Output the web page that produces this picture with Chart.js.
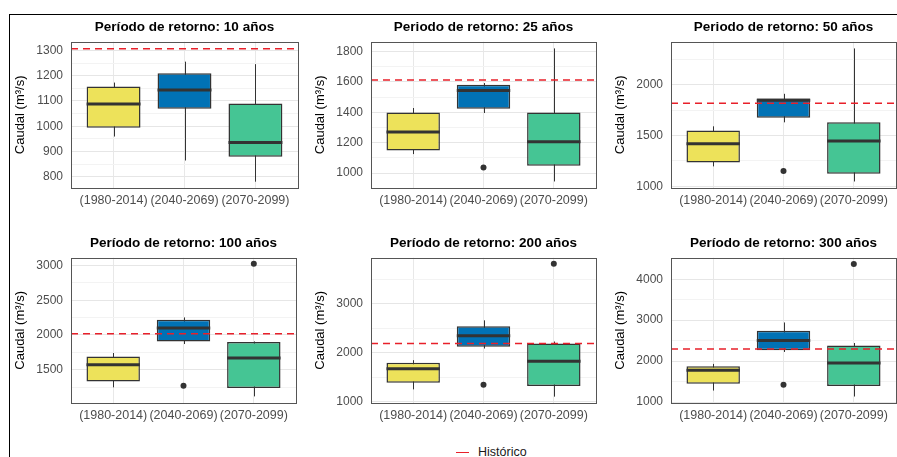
<!DOCTYPE html>
<html>
<head>
<meta charset="utf-8">
<script src="https://cdn.jsdelivr.net/npm/chart.js@4"></script>
<style>
  body { margin: 0; width: 897px; height: 457px; overflow: hidden; background: #fff; position: relative;
         font-family: "Liberation Sans", Arial, sans-serif; }
  .frame { position: absolute; left: 9px; top: 14px; width: 900px; height: 470px; border: 1.5px solid #000; box-sizing: border-box; }
  canvas { position: absolute; }
  .legend { position: absolute; left: 456px; top: 444px; font-size: 12.5px; color: #1a1a1a; line-height: 16px; }
  .legend span.dash { display: inline-block; width: 13px; height: 0; border-top: 1.5px solid #e8202a; vertical-align: middle; margin-right: 9px; }
</style>
</head>
<body>
<div class="frame"></div>
<div id="panels"></div>
<div class="legend"><span class="dash"></span>Histórico</div>
<script>
  // Datos
  const categories = ['(1980-2014)', '(2040-2069)', '(2070-2099)'];
  const titles = ['Período de retorno: 10 años', 'Periodo de retorno: 25 años', 'Periodo de retorno: 50 años',
                  'Período de retorno: 100 años', 'Período de retorno: 200 años', 'Período de retorno: 300 años'];
  const historico = [1307, 1612, 1816, 2017, 2190, 2297];
  const whiskerLow  = [[959, 864, 780], [1125, 1395, 945], [1197, 1629, 1049], [1245, 1869, 1115], [1251, 2088, 1102], [1282, 2224, 1136]];
  const hingeLow    = [[994, 1069, 879], [1149, 1423, 1048], [1236, 1673, 1125], [1331, 1906, 1236], [1388, 2122, 1318], [1445, 2263, 1392]];
  const medians     = [[1088, 1144, 935], [1270, 1543, 1206], [1420, 1846, 1446], [1571, 2099, 1668], [1673, 2347, 1829], [1776, 2506, 1956]];
  const hingeHigh   = [[1157, 1210, 1090], [1399, 1581, 1399], [1548, 1862, 1629], [1690, 2219, 1897], [1796, 2543, 2190], [1873, 2742, 2380]];
  const whiskerHigh = [[1173, 1256, 1246], [1428, 1592, 1820], [1590, 1909, 2354], [1740, 2252, 1906], [1849, 2665, 2231], [1932, 2944, 2443]];
  const outliers = [[], [[2, 1036]], [[2, 1151]], [[2, 1269], [3, 3024]], [[2, 1347], [3, 3822]], [[2, 1421], [3, 4372]]];
  const yTicks = [[800, 900, 1000, 1100, 1200, 1300], [1000, 1200, 1400, 1600, 1800], [1000, 1500, 2000],
                  [1500, 2000, 2500, 3000], [1000, 2000, 3000], [1000, 2000, 3000, 4000]];
  const yMin = [755, 902, 985, 1020, 972, 978];
  const yMax = [1335, 1864, 2420, 3112, 3948, 4525];
  const boxColors = ['#ede25a', '#0172b5', '#45c594'];

  const panelPos = [[0, 15], [300, 15], [600, 15], [0, 231], [300, 231], [600, 231]];
  const font = "'Liberation Sans', Arial, sans-serif";

  // bigotes debajo de la caja, medianas encima, borde del panel
  const boxPlugin = {
    id: 'boxExtras',
    beforeDatasetDraw(chart, args, opts) {
      if (args.index !== 0) return;
      const { ctx, scales: { x, y } } = chart;
      ctx.save();
      ctx.strokeStyle = '#333';
      ctx.lineWidth = 1;
      opts.lo.forEach((lo, i) => {
        const px = Math.round(x.getPixelForValue(i + 1)) + 0.5;
        ctx.beginPath();
        ctx.moveTo(px, y.getPixelForValue(lo));
        ctx.lineTo(px, y.getPixelForValue(opts.hi[i]));
        ctx.stroke();
      });
      ctx.restore();
    },
    afterDatasetDraw(chart, args, opts) {
      if (args.index !== 0) return;
      const { ctx, scales: { y } } = chart;
      const bars = chart.getDatasetMeta(0).data;
      ctx.save();
      ctx.strokeStyle = '#333';
      ctx.lineWidth = 3;
      opts.med.forEach((m, i) => {
        const py = y.getPixelForValue(m);
        ctx.beginPath();
        ctx.moveTo(bars[i].x - bars[i].width / 2, py);
        ctx.lineTo(bars[i].x + bars[i].width / 2, py);
        ctx.stroke();
      });
      ctx.restore();
    },
    afterDraw(chart) {
      const { ctx, chartArea: a } = chart;
      ctx.save();
      ctx.strokeStyle = '#555';
      ctx.lineWidth = 1;
      ctx.strokeRect(Math.round(a.left) + 0.5, Math.round(a.top) + 0.5, Math.round(a.right - a.left), Math.round(a.bottom - a.top));
      ctx.restore();
    }
  };

  titles.forEach((title, p) => {
    const canvas = document.createElement('canvas');
    canvas.width = 300;
    canvas.height = 200;
    canvas.style.left = panelPos[p][0] + 'px';
    canvas.style.top = panelPos[p][1] + 'px';
    document.getElementById('panels').appendChild(canvas);

    const major = yTicks[p];
    const half = (major[1] - major[0]) / 2;
    const gridVals = [];
    for (let v = major[0] - half; v <= yMax[p]; v += half) {
      if (v >= yMin[p]) gridVals.push(v);
    }

    new Chart(canvas, {
      type: 'bar',
      data: {
        datasets: [
          {
            data: categories.map((c, i) => ({ x: i + 1, y: [hingeLow[p][i], hingeHigh[p][i]] })),
            backgroundColor: boxColors,
            borderColor: '#333',
            borderWidth: 1.5,
            borderSkipped: false,
            categoryPercentage: 1,
            barPercentage: 0.76,
            order: 2
          },
          {
            type: 'line',
            data: outliers[p].map(o => ({ x: o[0], y: o[1] })),
            showLine: false,
            pointRadius: 3,
            pointBackgroundColor: '#333',
            pointBorderWidth: 0,
            order: 1
          },
          {
            type: 'line',
            label: 'Histórico',
            data: [{ x: 0.4, y: historico[p] }, { x: 3.6, y: historico[p] }],
            borderColor: '#e8202a',
            borderWidth: 1.5,
            borderDash: [7, 5],
            pointRadius: 0,
            order: 0
          }
        ]
      },
      options: {
        responsive: false,
        animation: false,
        layout: { padding: { left: 0, right: 2, top: 0, bottom: 0 } },
        plugins: {
          legend: { display: false },
          tooltip: { enabled: false },
          title: {
            display: true,
            text: title,
            fullSize: false,
            color: '#000',
            font: { family: font, size: 13.5, weight: 'bold' },
            padding: { top: 4, bottom: 6.5 }
          },
          boxExtras: { lo: whiskerLow[p], hi: whiskerHigh[p], med: medians[p] }
        },
        scales: {
          x: {
            type: 'linear',
            min: 0.4,
            max: 3.6,
            offset: false,
            afterBuildTicks: s => { s.ticks = categories.map((c, i) => ({ value: i + 1 })); },
            afterFit: s => { s.height = p < 3 ? 27 : 28; },
            ticks: {
              callback: v => categories[v - 1],
              color: '#4d4d4d',
              font: { family: font, size: 12.5 },
              padding: 5,
              maxRotation: 0,
              autoSkip: false
            },
            grid: { offset: false, drawTicks: false, color: '#e8e8e8', lineWidth: 1 },
            border: { display: false }
          },
          y: {
            min: yMin[p],
            max: yMax[p],
            afterBuildTicks: s => { s.ticks = gridVals.map(v => ({ value: v })); },
            afterFit: s => { s.width = 71; },
            ticks: {
              callback: v => major.includes(v) ? v : '',
              color: '#4d4d4d',
              font: { family: font, size: 12 },
              padding: 8,
              autoSkip: false
            },
            grid: {
              drawTicks: false,
              color: c => major.includes(c.tick.value) ? '#e6e6e6' : '#f3f3f3',
              lineWidth: 1
            },
            border: { display: false },
            title: {
              display: true,
              text: 'Caudal (m³/s)',
              color: '#000',
              font: { family: font, size: 13 },
              padding: { top: 13, bottom: 0 }
            }
          }
        }
      },
      plugins: [boxPlugin]
    });
  });
</script>
</body>
</html>
